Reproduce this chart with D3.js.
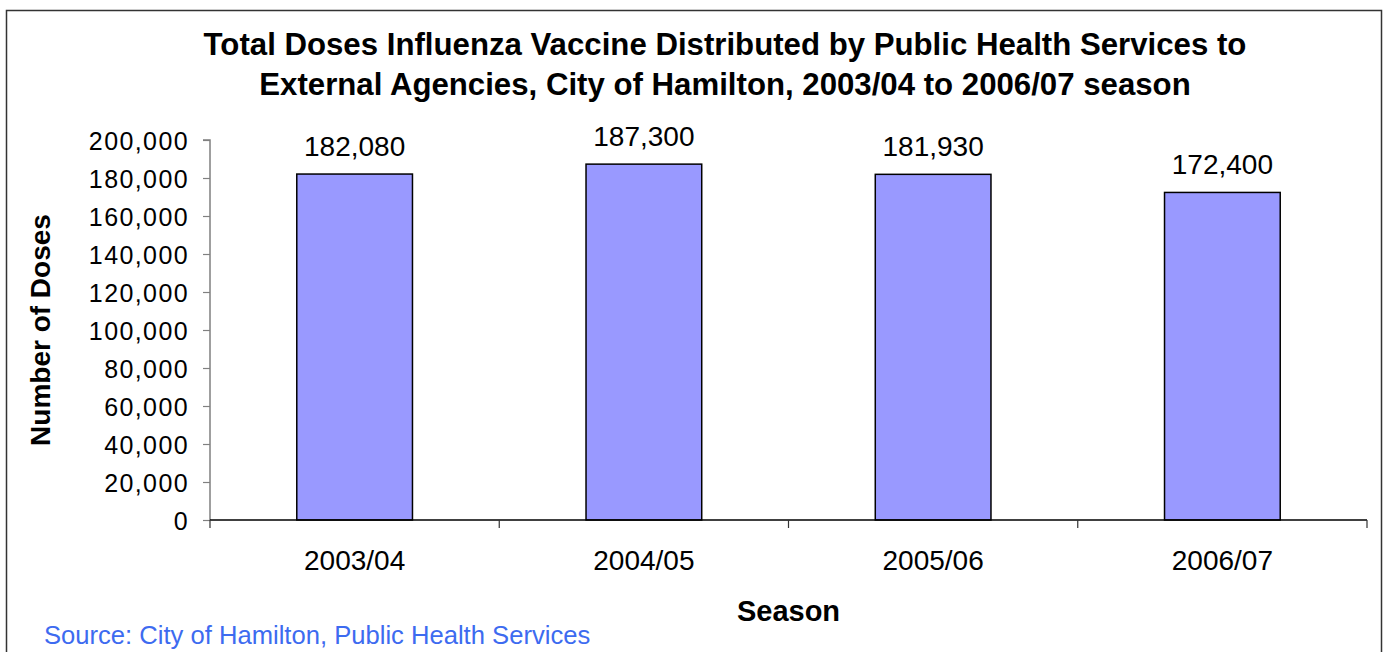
<!DOCTYPE html>
<html>
<head>
<meta charset="utf-8">
<script src="https://cdn.jsdelivr.net/npm/d3@7"></script>
<style>
  html, body { margin: 0; padding: 0; background: #ffffff; }
  svg { display: block; font-family: Arial, "Liberation Sans", Helvetica, sans-serif; }
</style>
</head>
<body>
<svg id="chart" width="1390" height="652"></svg>
<script>
const seasons = ["2003/04", "2004/05", "2005/06", "2006/07"];
const doses = [182080, 187300, 181930, 172400];
const yTicks = [0, 20000, 40000, 60000, 80000, 100000, 120000, 140000, 160000, 180000, 200000];
const titleLines = [
  "Total Doses Influenza Vaccine Distributed by Public Health Services to",
  "External Agencies, City of Hamilton, 2003/04 to 2006/07 season"
];
const xTitle = "Season";
const yTitle = "Number of Doses";
const sourceText = "Source: City of Hamilton, Public Health Services";

const svg = d3.select("#chart");
const W = 1390, H = 652;
const plot = { left: 210, right: 1367, top: 140, bottom: 520 };

svg.append("rect").attr("x", 0).attr("y", 0).attr("width", W).attr("height", H).attr("fill", "#fff");
// outer frame
svg.append("rect")
  .attr("x", 6.5).attr("y", 10.5)
  .attr("width", 1375).attr("height", 660)
  .attr("fill", "none").attr("stroke", "#333").attr("stroke-width", 1.5);

const x = d3.scaleBand().domain(seasons).range([plot.left, plot.right]).paddingInner(0.6).paddingOuter(0.3);
const y = d3.scaleLinear().domain([0, 200000]).range([plot.bottom, plot.top]);
const fmt = d3.format(",");

// Title
svg.append("g").selectAll("text").data(titleLines).join("text")
  .attr("x", 725).attr("y", (d, i) => 55 + i * 40)
  .attr("text-anchor", "middle")
  .attr("font-size", 31.2).attr("font-weight", "bold").attr("fill", "#000")
  .text(d => d);

// Bars
svg.append("g").selectAll("rect").data(doses).join("rect")
  .attr("x", (d, i) => x(seasons[i]))
  .attr("y", d => y(d))
  .attr("width", x.bandwidth())
  .attr("height", d => y(0) - y(d))
  .attr("fill", "#9999FF").attr("stroke", "#000").attr("stroke-width", 1.5);

// Value labels
svg.append("g").selectAll("text").data(doses).join("text")
  .attr("x", (d, i) => x(seasons[i]) + x.bandwidth() / 2)
  .attr("y", d => y(d) - 18)
  .attr("text-anchor", "middle")
  .attr("font-size", 28).attr("fill", "#000")
  .text(d => fmt(d));

// Y axis
const yAxis = svg.append("g").attr("transform", `translate(${plot.left},0)`)
  .call(d3.axisLeft(y).tickValues(yTicks).tickSize(7).tickPadding(14).tickFormat(fmt));
yAxis.select(".domain").attr("stroke", "#808080").attr("stroke-width", 1.5)
  .attr("d", `M-7,${plot.top}H0V${plot.bottom}`);
yAxis.selectAll(".tick line").attr("stroke", "#808080").attr("stroke-width", 1.2);
yAxis.selectAll(".tick text").attr("font-size", 25).attr("letter-spacing", 1.4)
  .attr("fill", "#000").attr("font-family", "Arial, 'Liberation Sans', sans-serif")
  .attr("dy", "0.36em");

// X axis
const boundaries = d3.range(seasons.length + 1).map(i => plot.left + i * (plot.right - plot.left) / seasons.length);
const xg = svg.append("g");
xg.append("line").attr("x1", plot.left).attr("x2", plot.right)
  .attr("y1", plot.bottom).attr("y2", plot.bottom)
  .attr("stroke", "#000").attr("stroke-width", 1.5);
xg.selectAll("line.tk").data(boundaries).join("line").attr("class", "tk")
  .attr("x1", d => d).attr("x2", d => d)
  .attr("y1", plot.bottom).attr("y2", plot.bottom + 8)
  .attr("stroke", "#333").attr("stroke-width", 1.2);
xg.selectAll("text").data(seasons).join("text")
  .attr("x", d => x(d) + x.bandwidth() / 2)
  .attr("y", 570)
  .attr("text-anchor", "middle")
  .attr("font-size", 28).attr("fill", "#000")
  .text(d => d);

// Axis titles
svg.append("text")
  .attr("x", (plot.left + plot.right) / 2).attr("y", 621)
  .attr("text-anchor", "middle")
  .attr("font-size", 29).attr("font-weight", "bold").attr("fill", "#000")
  .text(xTitle);

svg.append("text")
  .attr("transform", `translate(50,${(plot.top + plot.bottom) / 2}) rotate(-90)`)
  .attr("text-anchor", "middle")
  .attr("font-size", 28).attr("font-weight", "bold").attr("fill", "#000")
  .text(yTitle);

// Source
svg.append("text")
  .attr("x", 44).attr("y", 644)
  .attr("font-size", 25.6).attr("fill", "#3D6BF0")
  .text(sourceText);
</script>
</body>
</html>
